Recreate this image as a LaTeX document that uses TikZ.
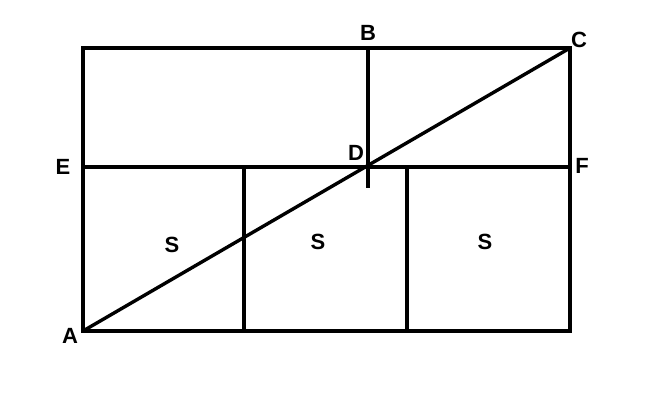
\documentclass[tikz,border=0pt]{standalone}
\usepackage{fontspec}
\setmainfont{Liberation Sans}
\begin{document}
\begin{tikzpicture}[x=1pt,y=-1pt,line width=3.4pt,
	lbl/.style={font=\bfseries\fontsize{22}{22}\selectfont}]
		\useasboundingbox (0,0) rectangle (657,418);
		\coordinate (a) at (83,331);
		\coordinate (b) at (368,48);
		\coordinate (c) at (570,48);
		\coordinate (d) at (368,167);
		\coordinate (e) at (83,167);
		\coordinate (f) at (570,167);
		\coordinate (tl) at (83,48);
		\coordinate (br) at (570,331);
		\coordinate (g) at (244,167);
		\coordinate (h) at (244,331);
		\coordinate (i) at (407,167);
		\coordinate (j) at (407,331);
		\coordinate (k) at (368,188);
		
		\draw (a) -- (tl) -- (c) -- (br) -- cycle;
		\draw (e) -- (f);
		\draw (b) -- (k);
		\draw (g) -- (h);
		\draw (i) -- (j);
		\draw (a) -- (c);
		
		\node[lbl] at (70,336) (la) {A};
		\node[lbl] at (368,33) (lb) {B};
		\node[lbl] at (579,40) (lc) {C};
		\node[lbl] at (356,153) (ld) {D};
		\node[lbl] at (63,167) (le) {E};
		\node[lbl] at (582,166) (lf) {F};
		\node[lbl] at (172,245) (s1) {S};
		\node[lbl] at (318,242) (s2) {S};
		\node[lbl] at (485,242) (s3) {S};
	\end{tikzpicture}
\end{document}
